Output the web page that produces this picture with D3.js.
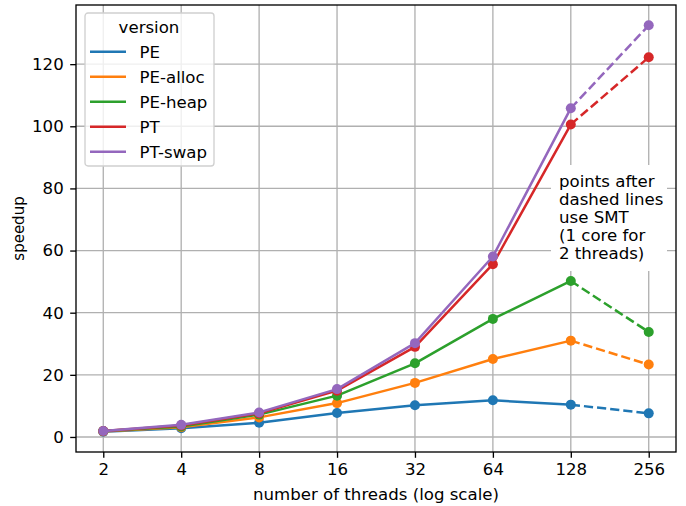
<!DOCTYPE html>
<html>
<head>
<meta charset="utf-8">
<script src="https://cdn.jsdelivr.net/npm/d3@7"></script>
<style>
  html, body { margin: 0; padding: 0; background: #fff; }
  svg { display: block; font-family: "DejaVu Sans", sans-serif; }
</style>
</head>
<body>
<div id="chart"></div>
<script>
const threads = [2, 4, 8, 16, 32, 64, 128, 256];
const versions = ['PE', 'PE-alloc', 'PE-heap', 'PT', 'PT-swap'];
const pe      = [1.7, 2.8, 4.6, 7.7, 10.2, 11.8, 10.4, 7.6];
const peAlloc = [1.8, 3.1, 6.3, 10.9, 17.4, 25.1, 31.0, 23.3];
const peHeap  = [1.9, 3.4, 7.2, 13.3, 23.7, 38.0, 50.2, 33.8];
const pt      = [1.9, 3.7, 7.6, 14.9, 29.0, 55.6, 100.6, 122.2];
const ptSwap  = [1.9, 3.9, 7.9, 15.4, 30.2, 58.1, 105.8, 132.5];
const yTicks = [0, 20, 40, 60, 80, 100, 120];
const smtFrom = 128; // points after this use SMT
const noteLines = ['points after', 'dashed lines', 'use SMT', '(1 core for', '2 threads)'];

const seriesValues = [pe, peAlloc, peHeap, pt, ptSwap];
const colors = ['#1f77b4', '#ff7f0e', '#2ca02c', '#d62728', '#9467bd'];

const width = 686, height = 506;
const margin = { top: 5, right: 10, bottom: 54, left: 76 };
const innerW = width - margin.left - margin.right;
const innerH = height - margin.top - margin.bottom;
const fs = 16.6;
const lw = 2.5;

const svg = d3.select('#chart').append('svg')
  .attr('width', width).attr('height', height);

const g = svg.append('g').attr('transform', `translate(${margin.left},${margin.top})`);

// matplotlib-style 5% margins
const lx = [Math.log2(2), Math.log2(256)];
const padX = (lx[1] - lx[0]) * 0.05;
const x = d3.scaleLog().base(2)
  .domain([2 ** (lx[0] - padX), 2 ** (lx[1] + padX)])
  .range([0, innerW]);

const allVals = seriesValues.flat();
const yMin = d3.min(allVals), yMax = d3.max(allVals);
const padY = (yMax - yMin) * 0.05;
const y = d3.scaleLinear().domain([yMin - padY, yMax + padY]).range([innerH, 0]);

// grid
g.append('g').selectAll('line').data(threads).join('line')
  .attr('x1', d => x(d)).attr('x2', d => x(d))
  .attr('y1', 0).attr('y2', innerH)
  .attr('stroke', '#b0b0b0').attr('stroke-width', 1.33);
g.append('g').selectAll('line').data(yTicks).join('line')
  .attr('x1', 0).attr('x2', innerW)
  .attr('y1', d => y(d)).attr('y2', d => y(d))
  .attr('stroke', '#b0b0b0').attr('stroke-width', 1.33);

// axes
const xAxis = g.append('g').attr('transform', `translate(0,${innerH})`)
  .call(d3.axisBottom(x).tickValues(threads).tickFormat(d3.format('d')).tickSize(5.8).tickPadding(5.8));
const yAxis = g.append('g')
  .call(d3.axisLeft(y).tickValues(yTicks).tickSize(5.8).tickPadding(6.5));
[xAxis, yAxis].forEach(a => {
  a.select('.domain').remove();
  a.selectAll('.tick line').attr('stroke', '#000').attr('stroke-width', 1.33);
  a.selectAll('.tick text').attr('fill', '#000').attr('font-size', fs)
    .attr('font-family', '"DejaVu Sans", sans-serif');
});

// series
const line = d3.line().x(d => x(d.t)).y(d => y(d.v));
versions.forEach((name, i) => {
  const pts = threads.map((t, j) => ({ t, v: seriesValues[i][j] }));
  const solid = pts.filter(p => p.t <= smtFrom);
  const dashed = pts.filter(p => p.t >= smtFrom);
  const sg = g.append('g');
  sg.append('path').datum(solid).attr('d', line)
    .attr('fill', 'none').attr('stroke', colors[i]).attr('stroke-width', lw)
    .attr('stroke-linejoin', 'round').attr('stroke-linecap', 'square');
  sg.append('path').datum(dashed).attr('d', line)
    .attr('fill', 'none').attr('stroke', colors[i]).attr('stroke-width', lw)
    .attr('stroke-dasharray', '9.2,4');
  sg.selectAll('circle').data(pts).join('circle')
    .attr('cx', d => x(d.t)).attr('cy', d => y(d.v)).attr('r', 5)
    .attr('fill', colors[i]);
});

// frame
g.append('rect').attr('width', innerW).attr('height', innerH)
  .attr('fill', 'none').attr('stroke', '#000').attr('stroke-width', 1.33);

// annotation
const note = g.append('g').attr('transform', `translate(${551 - margin.left},${165 - margin.top})`);
note.append('rect').attr('width', 116).attr('height', 106).attr('fill', '#fff');
note.append('text').attr('font-size', fs).attr('fill', '#000')
  .selectAll('tspan').data(noteLines).join('tspan')
  .attr('x', 8).attr('y', (d, k) => 21.7 + k * 18.15).text(d => d);

// legend
const lg = g.append('g').attr('transform', `translate(${85 - margin.left},${13 - margin.top})`);
lg.append('rect').attr('width', 129).attr('height', 153).attr('rx', 3)
  .attr('fill', '#fff').attr('fill-opacity', 0.8)
  .attr('stroke', '#d0d0d0').attr('stroke-width', 1.33);
lg.append('text').attr('x', 64).attr('y', 20.3).attr('text-anchor', 'middle')
  .attr('font-size', fs).text('version');
versions.forEach((name, i) => {
  const yy = 38.7 + i * 25;
  lg.append('line').attr('x1', 5).attr('x2', 41).attr('y1', yy).attr('y2', yy)
    .attr('stroke', colors[i]).attr('stroke-width', lw);
  lg.append('text').attr('x', 54.5).attr('y', yy + 6).attr('font-size', fs).text(name);
});

// axis labels
svg.append('text').attr('x', margin.left + innerW / 2).attr('y', 500)
  .attr('text-anchor', 'middle').attr('font-size', fs).text('number of threads (log scale)');
svg.append('text').attr('transform', `translate(24,${margin.top + innerH / 2}) rotate(-90)`)
  .attr('text-anchor', 'middle').attr('font-size', 15).text('speedup');
</script>
</body>
</html>
